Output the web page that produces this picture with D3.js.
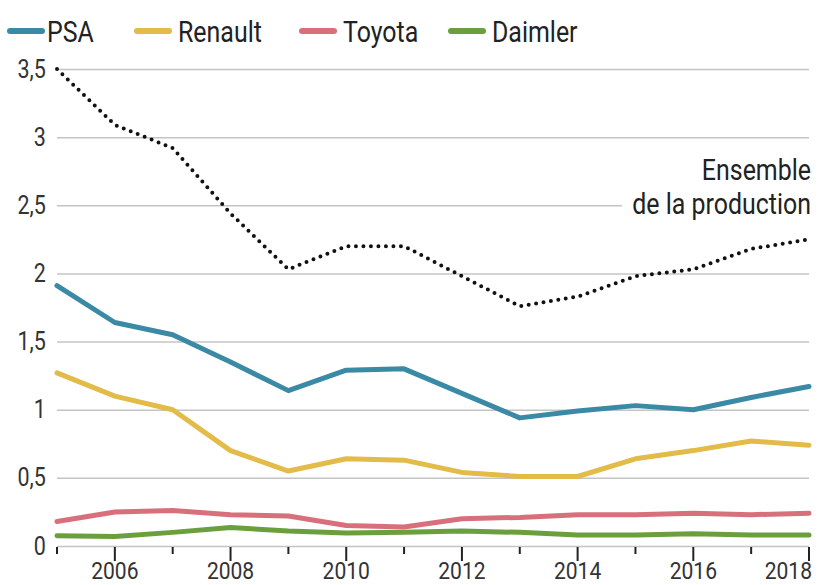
<!DOCTYPE html>
<html>
<head>
<meta charset="utf-8">
<script src="https://cdn.jsdelivr.net/npm/d3@7.9.0/dist/d3.min.js"></script>
<style>
  body { margin: 0; background: #fff; }
  svg { display: block; font-family: "Roboto", sans-serif; }
</style>
</head>
<body>
<svg id="chart" width="833" height="585"></svg>
<script>
const years = [2005, 2006, 2007, 2008, 2009, 2010, 2011, 2012, 2013, 2014, 2015, 2016, 2017, 2018];

const total   = [3.50, 3.09, 2.92, 2.44, 2.03, 2.20, 2.20, 1.98, 1.76, 1.83, 1.98, 2.03, 2.18, 2.25];
const psa     = [1.91, 1.64, 1.55, 1.35, 1.14, 1.29, 1.30, 1.12, 0.94, 0.99, 1.03, 1.00, 1.09, 1.17];
const renault = [1.27, 1.10, 1.00, 0.70, 0.55, 0.64, 0.63, 0.54, 0.51, 0.51, 0.64, 0.70, 0.77, 0.74];
const toyota  = [0.18, 0.25, 0.26, 0.23, 0.22, 0.15, 0.14, 0.20, 0.21, 0.23, 0.23, 0.24, 0.23, 0.24];
const daimler = [0.075, 0.07, 0.10, 0.135, 0.11, 0.095, 0.10, 0.11, 0.10, 0.08, 0.08, 0.09, 0.08, 0.08];

const seriesNames = ["PSA", "Renault", "Toyota", "Daimler"];
const seriesColors = ["#3b8aa5", "#e3bb48", "#d8707c", "#6b9f3d"];
const seriesValues = [psa, renault, toyota, daimler];

const yTicks = [0, 0.5, 1, 1.5, 2, 2.5, 3, 3.5];
const annotation = ["Ensemble", "de la production"];

// condensed look: Roboto squeezed horizontally
const SX = 0.86;

const svg = d3.select("#chart");
const x = d3.scaleLinear().domain([2005, 2018]).range([57, 809]);
const y = d3.scaleLinear().domain([0, 3.5]).range([546, 69]);

const fmt = (d) => String(d).replace(".", ",");

// gridlines + y labels
const yAxis = svg.append("g")
  .attr("transform", `translate(${x(2005)},0)`)
  .call(d3.axisLeft(y).tickValues(yTicks).tickFormat(fmt)
    .tickSize(-(x(2018) - x(2005))).tickPadding(13));
yAxis.select(".domain").remove();
yAxis.selectAll(".tick line").attr("stroke", "#c4c4c4").attr("stroke-width", 1.5);
yAxis.selectAll(".tick text")
  .attr("font-size", 25).attr("fill", "#333")
  .attr("font-family", "Roboto, sans-serif")
  .attr("transform", `scale(${SX},1)`);

// x axis ticks (long for even years)
const xAxis = svg.append("g").attr("transform", `translate(0,${y(0)})`);
xAxis.selectAll("line").data(years).join("line")
  .attr("x1", (d) => x(d)).attr("x2", (d) => x(d))
  .attr("y1", 1).attr("y2", (d) => (d % 2 === 0 ? 15 : 8))
  .attr("stroke", "#222").attr("stroke-width", 2);
xAxis.selectAll("text").data(years.filter((d) => d % 2 === 0)).join("text")
  .attr("transform", (d) => `translate(${d === 2018 ? x(d) + 3 : x(d)},33) scale(${SX},1)`)
  .attr("text-anchor", (d) => (d === 2018 ? "end" : "middle"))
  .attr("font-size", 24.5).attr("fill", "#333")
  .text((d) => d);

// annotation
const ann = svg.append("g");
ann.append("rect").attr("x", 622).attr("y", 190).attr("width", 200).attr("height", 32).attr("fill", "#fff");
ann.selectAll("text").data(annotation).join("text")
  .attr("transform", (d, i) => `translate(811,${180 + i * 34}) scale(${SX},1)`)
  .attr("text-anchor", "end")
  .attr("font-size", 29).attr("fill", "#222")
  .text((d) => d);

const line = d3.line().x((d, i) => x(years[i])).y((d) => y(d));

// total production, dotted
svg.append("path")
  .datum(total)
  .attr("d", line)
  .attr("fill", "none")
  .attr("stroke", "#111")
  .attr("stroke-width", 4)
  .attr("stroke-linecap", "round")
  .attr("stroke-dasharray", "0 7.5");

// brands, drawn bottom to top
for (let k = seriesValues.length - 1; k >= 0; k--) {
  svg.append("path")
    .datum(seriesValues[k])
    .attr("d", line)
    .attr("fill", "none")
    .attr("stroke", seriesColors[k])
    .attr("stroke-width", 5)
    .attr("stroke-linejoin", "round")
    .attr("stroke-linecap", "round");
}

// legend
const swatchX = [10, 137, 302, 451];
const labelX = [47, 178, 343, 492];
const legend = svg.append("g").selectAll("g").data(seriesNames).join("g");
legend.append("line")
  .attr("x1", (d, i) => swatchX[i]).attr("x2", (d, i) => swatchX[i] + 32)
  .attr("y1", 31).attr("y2", 31)
  .attr("stroke", (d, i) => seriesColors[i])
  .attr("stroke-width", 6).attr("stroke-linecap", "round");
legend.append("text")
  .attr("transform", (d, i) => `translate(${labelX[i]},42) scale(${SX},1)`)
  .attr("font-size", 29).attr("fill", "#222")
  .text((d) => d);
</script>
</body>
</html>
